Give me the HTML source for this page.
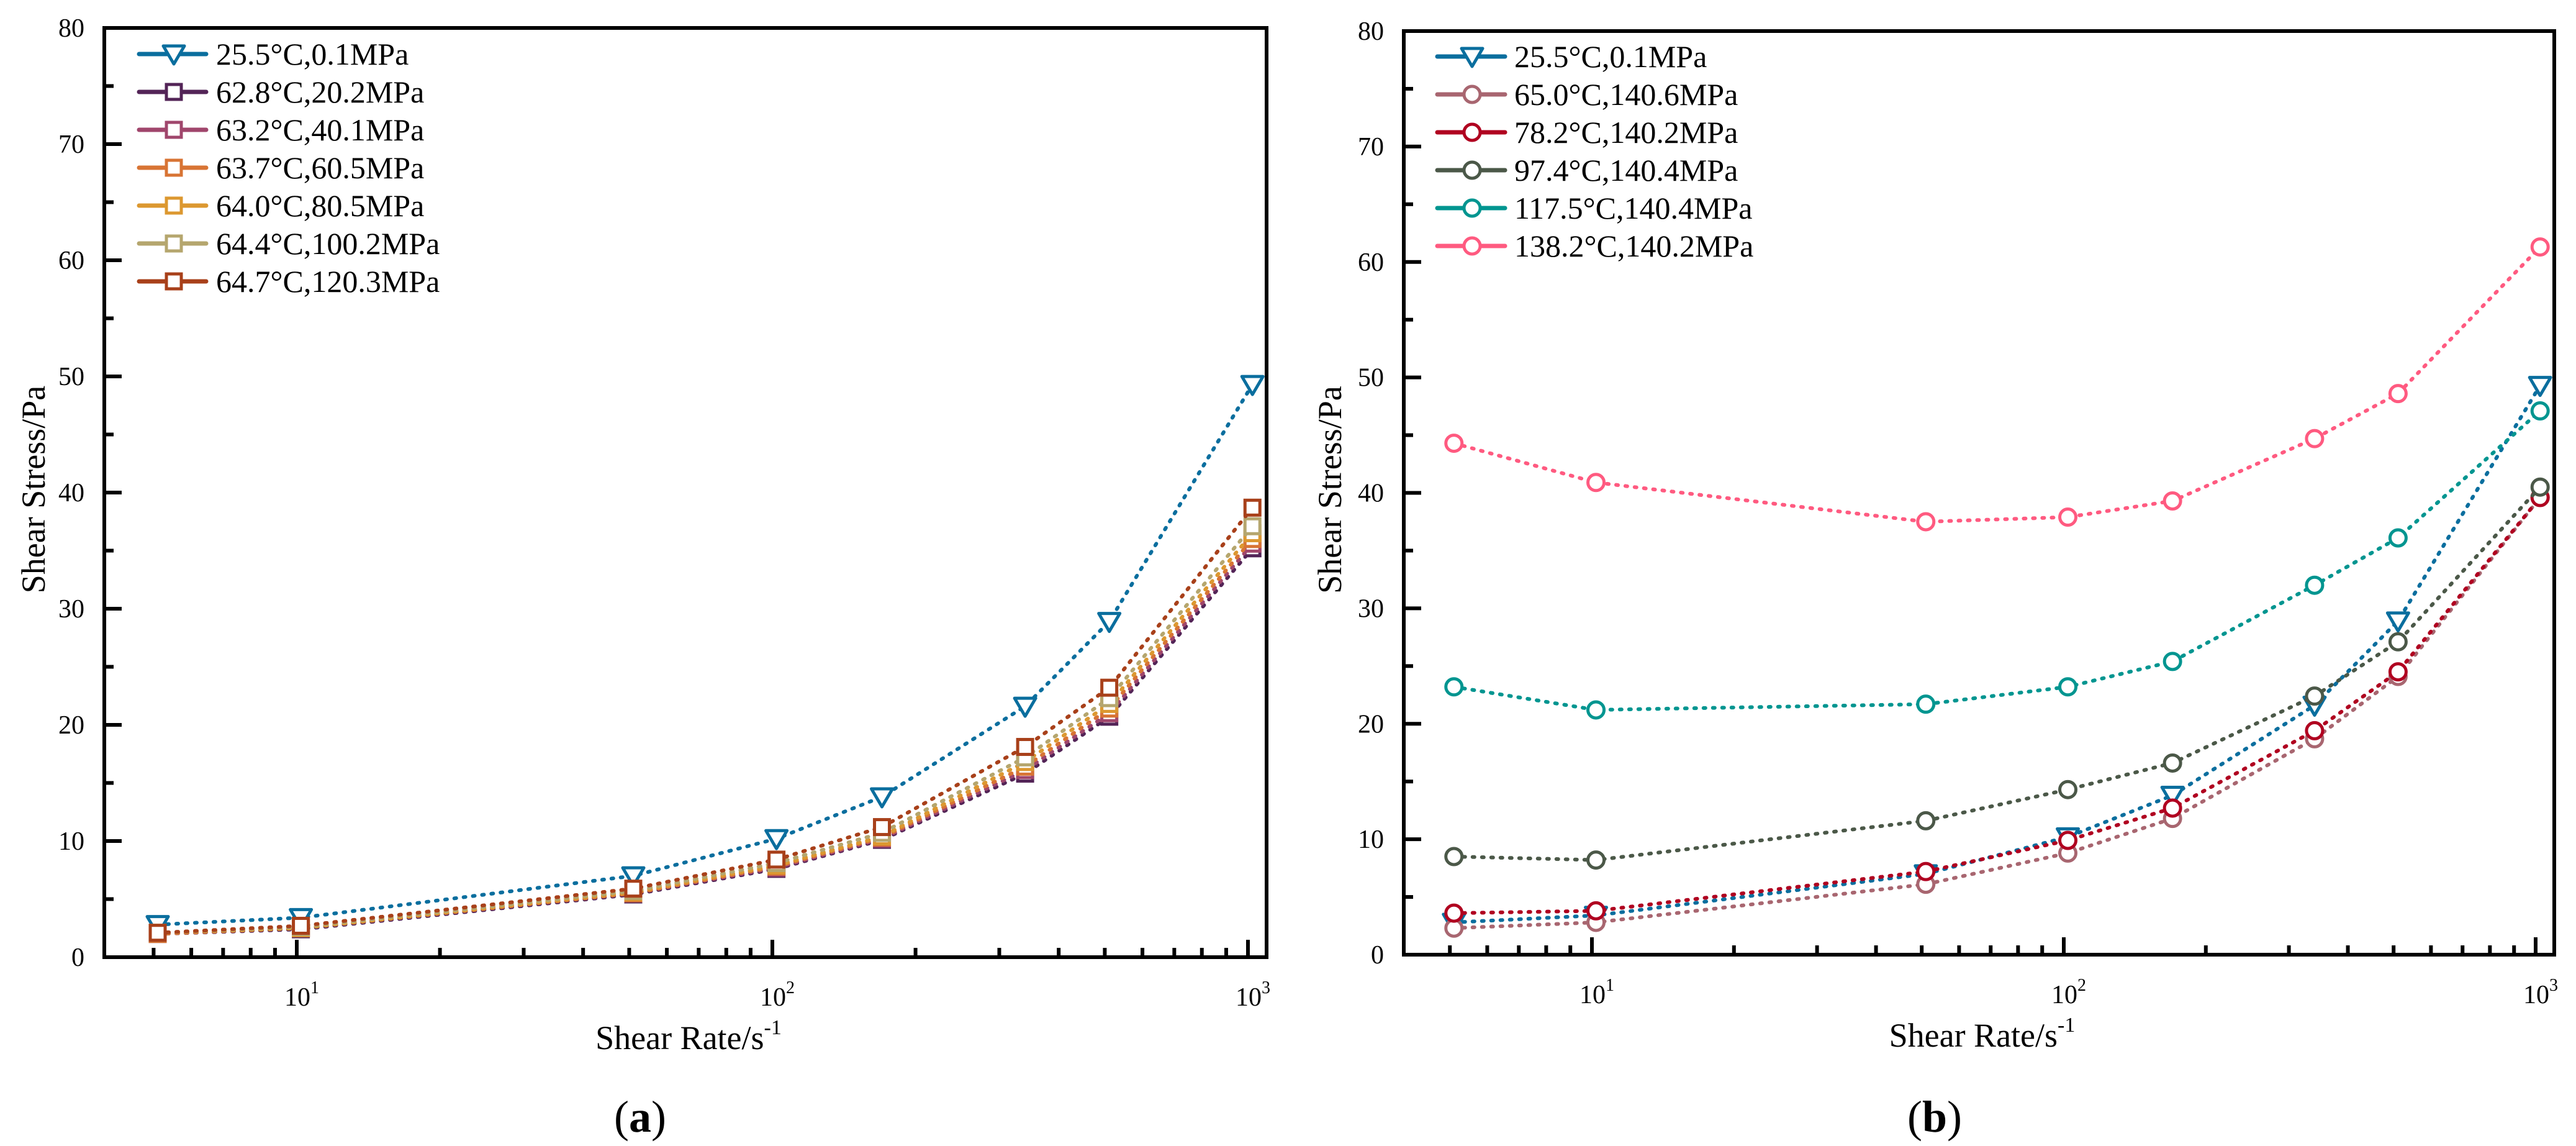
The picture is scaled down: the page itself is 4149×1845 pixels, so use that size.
<!DOCTYPE html>
<html><head><meta charset="utf-8"><style>
html,body{margin:0;padding:0;background:#fff;}
svg{display:block;font-family:"Liberation Serif","Times New Roman",serif;}
</style></head><body>
<svg id="fig" width="4149" height="1845" viewBox="0 0 4149 1845" xmlns="http://www.w3.org/2000/svg">
<rect x="0" y="0" width="4149" height="1845" fill="#fff"/>
</svg>
<script>
const shearRates = [5.1, 10.2, 51, 102, 170, 340, 511, 1022];
const yTicks = [0, 10, 20, 30, 40, 50, 60, 70, 80];
const xMajor = [10, 100, 1000];
const xMajorLabels = ["1", "2", "3"];
const xMinor = [5, 6, 7, 8, 9, 20, 30, 40, 50, 60, 70, 80, 90, 200, 300, 400, 500, 600, 700, 800, 900];

const labelsA = ["25.5°C,0.1MPa","62.8°C,20.2MPa","63.2°C,40.1MPa","63.7°C,60.5MPa","64.0°C,80.5MPa","64.4°C,100.2MPa","64.7°C,120.3MPa"];
const colorsA = ["#0a6e9e","#532457","#a0466c","#d87434","#dc9830","#b5a66e","#a8401a"];
const a0 = [2.8, 3.4, 7.0, 10.2, 13.8, 21.6, 28.9, 49.3];
const a1 = [2.0, 2.4, 5.4, 7.6, 10.1, 15.8, 20.7, 35.2];
const a2 = [2.0, 2.5, 5.5, 7.7, 10.2, 16.1, 21.0, 35.6];
const a3 = [2.0, 2.5, 5.5, 7.8, 10.3, 16.4, 21.4, 36.0];
const a4 = [2.1, 2.5, 5.6, 7.9, 10.4, 16.8, 21.8, 36.5];
const a5 = [2.1, 2.6, 5.7, 8.1, 10.7, 17.2, 22.3, 37.1];
const a6 = [2.1, 2.7, 5.9, 8.4, 11.2, 18.1, 23.2, 38.7];

const labelsB = ["25.5°C,0.1MPa","65.0°C,140.6MPa","78.2°C,140.2MPa","97.4°C,140.4MPa","117.5°C,140.4MPa","138.2°C,140.2MPa"];
const colorsB = ["#0a6e9e","#a86670","#b00020","#4b5848","#009590","#ff5a80"];
const b0 = [2.8, 3.4, 7.0, 10.2, 13.8, 21.6, 28.9, 49.3];
const b1 = [2.3, 2.8, 6.1, 8.8, 11.8, 18.7, 24.1, 39.6];
const b2 = [3.6, 3.8, 7.2, 9.9, 12.7, 19.4, 24.5, 39.6];
const b3 = [8.5, 8.2, 11.6, 14.3, 16.6, 22.4, 27.1, 40.5];
const b4 = [23.2, 21.2, 21.7, 23.2, 25.4, 32.0, 36.1, 47.1];
const b5 = [44.3, 40.9, 37.5, 37.9, 39.3, 44.7, 48.6, 61.3];

const NS = "http://www.w3.org/2000/svg";
const svg = document.getElementById("fig");
function mk(tag, attrs, parent) {
  const e = document.createElementNS(NS, tag);
  for (const k in attrs) e.setAttribute(k, attrs[k]);
  (parent || svg).appendChild(e);
  return e;
}
function marker(g, type, cx, cy, color) {
  let m;
  if (type === "tri") {
    m = mk("polygon", {points:`${cx-17},${cy-13} ${cx+17},${cy-13} ${cx},${cy+16}`, fill:"#fff", stroke:color, "stroke-width":5, "stroke-linejoin":"round"}, g);
  } else if (type === "sq") {
    m = mk("rect", {x:cx-12, y:cy-12, width:24, height:24, fill:"#fff", stroke:color, "stroke-width":5}, g);
  } else {
    m = mk("circle", {cx:cx, cy:cy, r:13, fill:"#fff", stroke:color, "stroke-width":5}, g);
  }
  return m;
}

function panel(cfg) {
  const {id, L, R, T, B, x10, dec, series, labels, colors, types, leg, title, tx, ylab} = cfg;
  const g = mk("g", {});
  
  
  const X = v => x10 + (Math.log10(v) - 1) * dec;
  const Y = v => B - v / 80 * (B - T);
  series.forEach((s, i) => {
    const sg = mk("g", {}, g);
    
    
    const pts = s.map((v, j) => X(shearRates[j]).toFixed(1) + "," + Y(v).toFixed(1)).join(" ");
    const pl = mk("polyline", {points:pts, fill:"none", stroke:colors[i], "stroke-width":6, "stroke-dasharray":"3 12", "stroke-linecap":"round"}, sg);
    
    
    s.forEach((v, j) => {
      const m = marker(sg, types[i], X(shearRates[j]), Y(v), colors[i]);
      
      
    });
  });
  const fr = mk("rect", {x:L, y:T, width:R-L, height:B-T, fill:"none", stroke:"#000", "stroke-width":6}, g);
  
  
  const ya = mk("g", {}, g);
  
  
  yTicks.forEach(v => {
    mk("line", {x1:L, x2:L+28, y1:Y(v), y2:Y(v), stroke:"#000", "stroke-width":6}, ya);
    if (v < 80) mk("line", {x1:L, x2:L+15, y1:Y(v+5), y2:Y(v+5), stroke:"#000", "stroke-width":6}, ya);
    const t = mk("text", {x:L-32, y:Y(v)+14, "text-anchor":"end", "font-size":42}, ya);
    t.textContent = v;
    
    
  });
  const xa = mk("g", {}, g);
  
  
  xMinor.forEach(v => mk("line", {x1:X(v), x2:X(v), y1:B, y2:B-15, stroke:"#000", "stroke-width":6}, xa));
  xMajor.forEach((v, i) => {
    mk("line", {x1:X(v), x2:X(v), y1:B, y2:B-28, stroke:"#000", "stroke-width":6}, xa);
    const t = mk("text", {x:X(v)+8, y:B+78, "text-anchor":"middle", "font-size":42}, xa);
    
    
    t.appendChild(document.createTextNode("10"));
    const sp = mk("tspan", {"font-size":28, dy:-20}, t);
    sp.textContent = xMajorLabels[i];
  });
  const xt = mk("text", {x:(L+R)/2 + 5, y:B+148, "text-anchor":"middle", "font-size":54}, g);
  
  
  xt.appendChild(document.createTextNode("Shear Rate/s"));
  const xs = mk("tspan", {"font-size":34, dy:-24}, xt);
  xs.textContent = "-1";
  const yt = mk("text", {x:0, y:0, "text-anchor":"middle", "font-size":54, transform:`translate(${ylab},${(T+B)/2 - 5}) rotate(-90)`}, g);
  yt.textContent = "Shear Stress/Pa";
  
  
  const lg = mk("g", {}, g);
  
  
  labels.forEach((lab, i) => {
    const e = mk("g", {}, lg);
    
    
    const y = leg.y0 + i * 61;
    mk("line", {x1:leg.x1, x2:leg.x2, y1:y, y2:y, stroke:colors[i], "stroke-width":7, "stroke-linecap":"round"}, e);
    marker(e, types[i], leg.mx, y, colors[i]);
    const t = mk("text", {x:leg.tx, y:y+17, "font-size":50}, e);
    t.textContent = lab;
  });
  const pt = mk("text", {x:tx, y:1822, "text-anchor":"middle", "font-size":72}, g);
  
  
  pt.appendChild(document.createTextNode("("));
  const bs = mk("tspan", {"font-weight":"bold"}, pt);
  bs.textContent = title;
  pt.appendChild(document.createTextNode(")"));
}

panel({id:"chart-a", L:168, R:2040, T:45, B:1541, x10:478, dec:766,
  series:[a0,a1,a2,a3,a4,a5,a6], labels:labelsA, colors:colorsA,
  types:["tri","sq","sq","sq","sq","sq","sq"],
  leg:{y0:87, x1:224, x2:332, mx:280, tx:348}, title:"a", tx:1031, ylab:72});
panel({id:"chart-b", L:2261, R:4114, T:50, B:1537, x10:2564, dec:760,
  series:[b0,b1,b2,b3,b4,b5], labels:labelsB, colors:colorsB,
  types:["tri","circ","circ","circ","circ","circ"],
  leg:{y0:91, x1:2315, x2:2424, mx:2371, tx:2439}, title:"b", tx:3116, ylab:2160});
</script>
</body></html>
